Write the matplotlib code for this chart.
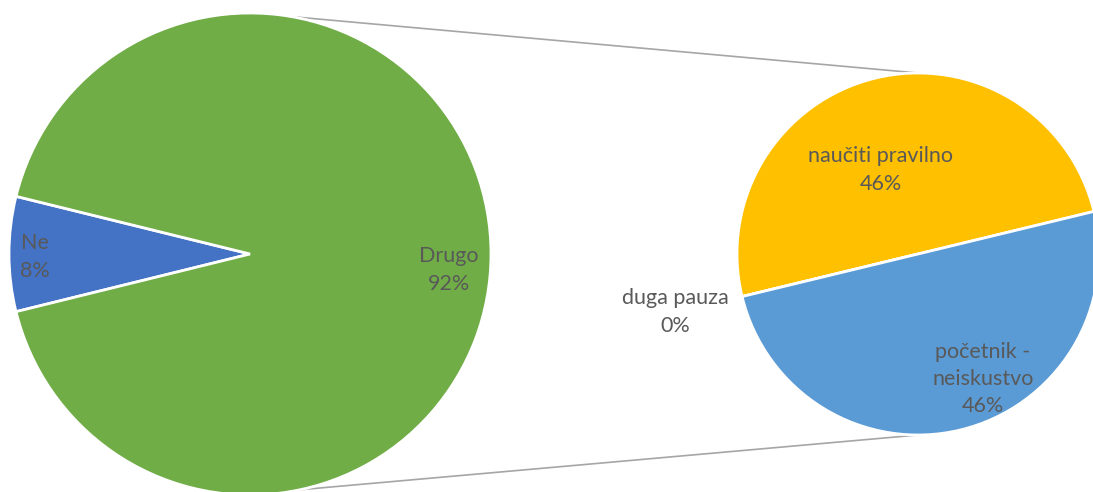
import numpy as np
import matplotlib
matplotlib.use("Agg")
import matplotlib.pyplot as plt

# odgovori (broj ispitanika)
main_labels = ["Ne", "Drugo"]
main_values = [1, 12]
sub_labels = ["naučiti pravilno", "duga pauza", "početnik -\nneiskustvo"]
sub_values = [6, 0, 6]
total = sum(main_values)

main_colors = ["#4472C4", "#70AD47"]
sub_colors = ["#FFC000", "#A5A5A5", "#5B9BD5"]
TXT = "#595959"

plt.rcParams['font.family'] = ['Lato', 'DejaVu Sans']

fig = plt.figure(figsize=(10.93, 4.92), dpi=100)
ax = fig.add_axes([0, 0, 1, 1])

# glavna pita
c1, r1 = (250, 238), 241
start1 = 180 - 360 * main_values[0] / total / 2
ax.pie(main_values, colors=main_colors, center=c1, radius=r1,
       startangle=start1, counterclock=True, frame=True,
       wedgeprops=dict(edgecolor="white", linewidth=2))

# druga pita
c2, r2 = (918, 238), 181
ax.pie(sub_values, colors=sub_colors, center=c2, radius=r2,
       startangle=13.6, counterclock=True, frame=True,
       wedgeprops=dict(edgecolor="white", linewidth=2))
ax.set_xlim(0, 1093)
ax.set_ylim(0, 492)
ax.set_aspect("equal")
ax.axis("off")

# spojne linije
a_top, a_bot = np.radians(80), np.radians(-78)
ax.plot([c1[0] + r1 * np.cos(a_top), c2[0]], [c1[1] + r1 * np.sin(a_top), c2[1] + r2],
        color="#A6A6A6", lw=1.2, zorder=0)
ax.plot([c1[0] + r1 * np.cos(a_bot), c2[0]], [c1[1] + r1 * np.sin(a_bot), c2[1] - r2],
        color="#A6A6A6", lw=1.2, zorder=0)

def pct(v):
    return "%d%%" % round(100.0 * v / total)

# oznake (pozicije u pikselima slike, y od vrha)
label_pos_main = [(35, 257), (449, 270)]
label_pos_sub = [(881, 170), (675, 312), (983, 379)]
for lab, v, (x, y) in zip(main_labels, main_values, label_pos_main):
    ax.text(x, 492 - y, lab + "\n" + pct(v), ha="center", va="center",
            color=TXT, fontsize=15.5, linespacing=1.45)
for lab, v, (x, y) in zip(sub_labels, sub_values, label_pos_sub):
    ax.text(x, 492 - y, lab + "\n" + pct(v), ha="center", va="center",
            color=TXT, fontsize=15.5, linespacing=1.45)

fig.savefig("out.png", dpi=100)
